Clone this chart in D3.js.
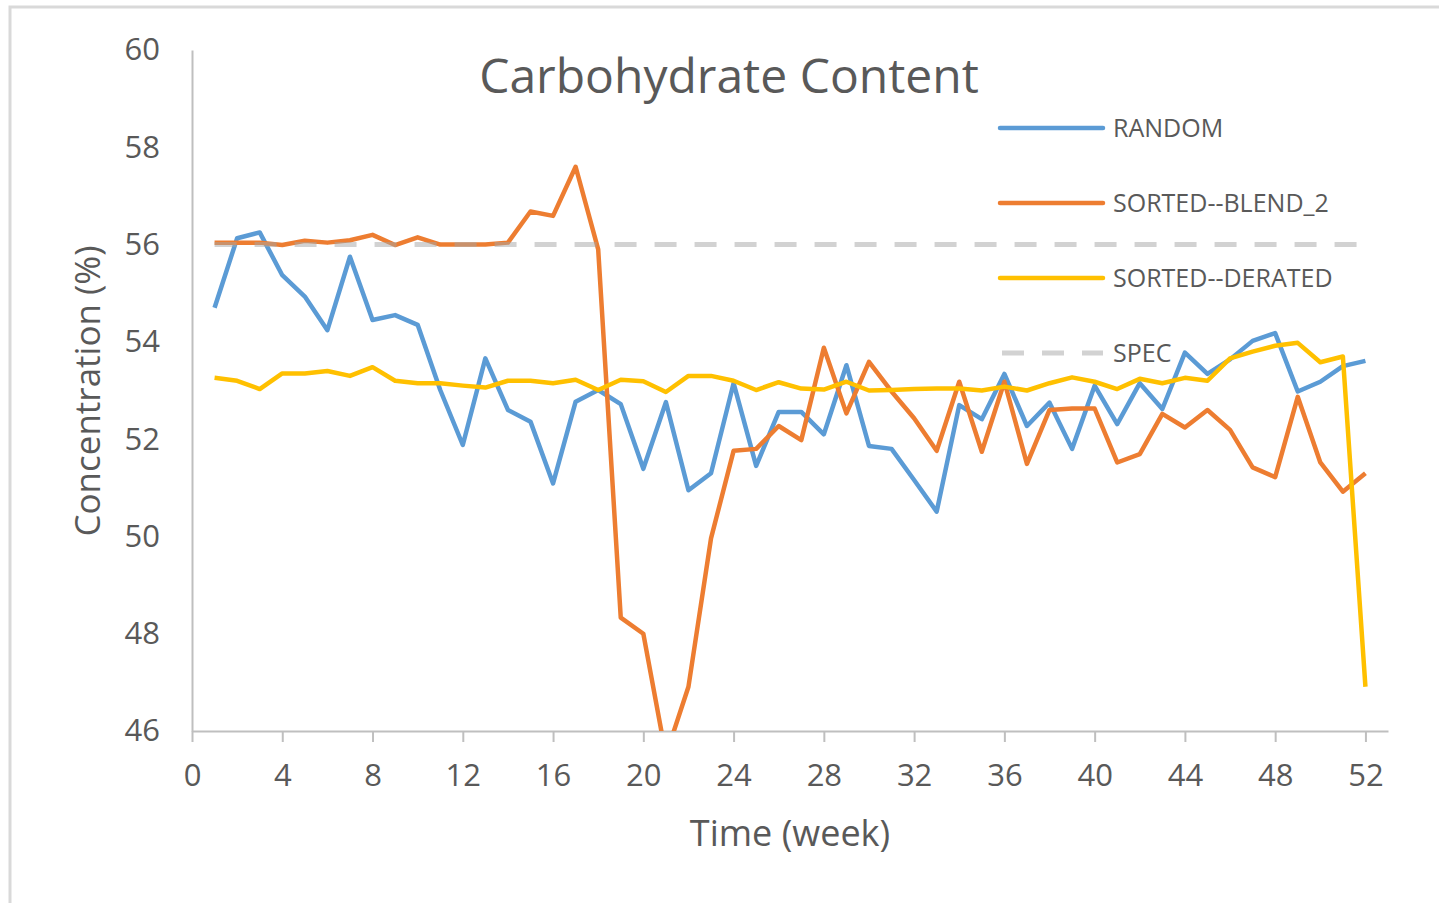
<!DOCTYPE html>
<html>
<head>
<meta charset="utf-8">
<script src="https://cdn.jsdelivr.net/npm/d3@7"></script>
<style>
  body { margin: 0; background: #fff; }
  text { font-family: "Open Sans", "Noto Sans", sans-serif; fill: #595959; }
</style>
</head>
<body>
<div id="chart"></div>
<script>
// weekly carbohydrate readings
var weeks = d3.range(1, 53);

var random = [54.70, 56.13, 56.25, 55.37, 54.93, 54.24, 55.75, 54.45, 54.55, 54.35,
  53.01, 51.88, 53.66, 52.60, 52.36, 51.09, 52.77, 53.01, 52.72, 51.39,
  52.76, 50.95, 51.30, 53.15, 51.45, 52.56, 52.56, 52.10, 53.52, 51.86,
  51.80, 51.16, 50.51, 52.70, 52.41, 53.34, 52.27, 52.75, 51.80, 53.10,
  52.31, 53.15, 52.62, 53.78, 53.34, 53.64, 54.02, 54.18, 52.98, 53.18,
  53.50, 53.61];

var blend2 = [56.04, 56.04, 56.04, 55.99, 56.08, 56.04, 56.09, 56.20, 55.99, 56.15,
  56.00, 56.00, 56.00, 56.04, 56.68, 56.59, 57.60, 55.90, 48.33, 48.00,
  45.50, 46.91, 49.96, 51.76, 51.80, 52.27, 51.98, 53.88, 52.53, 53.59,
  52.98, 52.43, 51.76, 53.18, 51.74, 53.18, 51.49, 52.60, 52.63, 52.63,
  51.52, 51.69, 52.52, 52.24, 52.60, 52.19, 51.42, 51.22, 52.87, 51.52,
  50.92, 51.30];

var derated = [53.26, 53.20, 53.03, 53.35, 53.35, 53.40, 53.30, 53.48, 53.20, 53.15,
  53.15, 53.10, 53.06, 53.20, 53.20, 53.15, 53.22, 53.01, 53.22, 53.19,
  52.97, 53.30, 53.30, 53.20, 53.01, 53.17, 53.04, 53.02, 53.18, 53.00,
  53.01, 53.03, 53.04, 53.04, 53.00, 53.08, 53.00, 53.15, 53.27, 53.18,
  53.03, 53.24, 53.15, 53.26, 53.20, 53.66, 53.80, 53.92, 53.98, 53.58,
  53.70, 46.91];

var spec = weeks.map(function() { return 56; });

var seriesNames = ["RANDOM", "SORTED--BLEND_2", "SORTED--DERATED", "SPEC"];
var seriesColors = ["#5B9BD5", "#ED7D31", "#FFC000", "#A5A5A5"];
var xTicks = d3.range(0, 53, 4);
var yTicks = d3.range(46, 61, 2);

var width = 1439,
  height = 903;

var svg = d3.select("#chart").append("svg")
  .attr("width", width)
  .attr("height", height);

// chart frame (only top and left edges show in the shot)
svg.append("rect")
  .attr("x", 10).attr("y", 7)
  .attr("width", 1460).attr("height", 920)
  .attr("fill", "#fff")
  .attr("stroke", "#d9d9d9")
  .attr("stroke-width", 3);

var x = d3.scaleLinear().domain([0, 53]).range([192, 1388]);
var y = d3.scaleLinear().domain([46, 60]).range([731, 50]);

svg.append("defs").append("clipPath").attr("id", "plot")
  .append("rect")
  .attr("x", 192).attr("y", 50)
  .attr("width", 1388 - 192).attr("height", 731 - 50);

// y axis: line + labels, no ticks
var yAxis = svg.append("g")
  .attr("transform", "translate(192,0)")
  .call(d3.axisLeft(y).tickValues(yTicks).tickSize(0).tickPadding(32));
yAxis.select(".domain").attr("stroke", "#bfbfbf").attr("stroke-width", 2);
yAxis.selectAll("text").style("font-size", "31px").attr("fill", "#595959");

// x axis
var xAxis = svg.append("g")
  .attr("transform", "translate(0,731)")
  .call(d3.axisBottom(x).tickValues(xTicks).tickSize(11).tickSizeOuter(0).tickPadding(22));
xAxis.select(".domain").attr("stroke", "#bfbfbf").attr("stroke-width", 2);
xAxis.selectAll(".tick line").attr("stroke", "#bfbfbf").attr("stroke-width", 2);
xAxis.selectAll("text").style("font-size", "31px").attr("fill", "#595959");

// title and axis labels
svg.append("text")
  .attr("x", 729).attr("y", 93)
  .attr("text-anchor", "middle")
  .style("font-size", "48px")
  .text("Carbohydrate Content");

svg.append("text")
  .attr("transform", "translate(100,391) rotate(-90)")
  .attr("text-anchor", "middle")
  .style("font-size", "35px")
  .text("Concentration (%)");

svg.append("text")
  .attr("x", 790).attr("y", 846)
  .attr("text-anchor", "middle")
  .style("font-size", "36px")
  .text("Time (week)");

var line = d3.line()
  .x(function(d) { return x(d[0]); })
  .y(function(d) { return y(d[1]); });

var allSeries = [random, blend2, derated, spec];
var plot = svg.append("g").attr("clip-path", "url(#plot)");

allSeries.forEach(function(vals, i) {
  var pts = weeks.map(function(w, j) { return [w, vals[j]]; });
  var p = plot.append("path")
    .datum(pts)
    .attr("d", line)
    .attr("fill", "none")
    .attr("stroke", seriesColors[i])
    .attr("stroke-width", 4.5)
    .attr("stroke-linejoin", "round");
  if (i == 3) {
    p.attr("stroke-dasharray", "22,18").attr("stroke-opacity", 0.5).attr("stroke-width", 5);
  }
});

// legend
var legend = svg.append("g").attr("transform", "translate(1000,128)");
seriesNames.forEach(function(name, i) {
  var g = legend.append("g").attr("transform", "translate(0," + (i * 75) + ")");
  var l = g.append("line")
    .attr("x1", 0).attr("x2", 103)
    .attr("stroke", seriesColors[i])
    .attr("stroke-width", 4.5)
    .attr("stroke-linecap", "round");
  if (i == 3) {
    l.attr("x1", 2).attr("stroke-dasharray", "22,18").attr("stroke-opacity", 0.5)
      .attr("stroke-width", 5).attr("stroke-linecap", "butt");
  }
  g.append("text")
    .attr("x", 113).attr("y", 9)
    .style("font-size", "25px")
    .text(name);
});
</script>
</body>
</html>
